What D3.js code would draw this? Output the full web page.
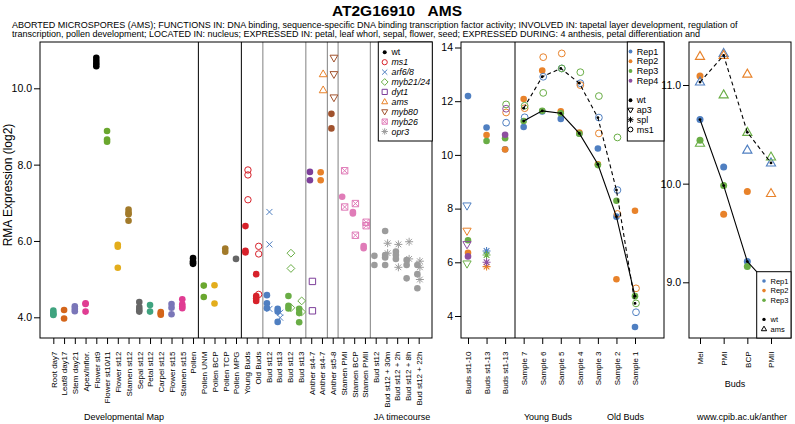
<!DOCTYPE html>
<html><head><meta charset="utf-8">
<script src="https://cdn.jsdelivr.net/npm/d3@7/dist/d3.min.js"></script>
<style>
body{margin:0;background:#fff}
svg{display:block}
text{font-family:"Liberation Sans",Arial,sans-serif}
</style>
</head><body>
<svg id="chart" width="795" height="424"></svg>
<script>
// ---------------- DATA ----------------
const titleText = "AT2G16910   AMS";
const descLines = [
  "ABORTED MICROSPORES (AMS); FUNCTIONS IN: DNA binding, sequence-specific DNA binding transcription factor activity; INVOLVED IN: tapetal layer development, regulation of",
  "transcription, pollen development; LOCATED IN: nucleus; EXPRESSED IN: petal, leaf whorl, sepal, flower, seed; EXPRESSED DURING: 4 anthesis, petal differentiation and"
];

const devCategories = ["Root day7","Leaf8 day17","Stem day21","Apex/Inflor.","Flower st9","Flower st10/11","Flower st12","Stamen st12","Sepal st12","Petal st12","Carpel st12","Flower st15","Stamen st15","Pollen","Pollen UNM","Pollen BCP","Pollen TCP","Pollen MPG","Young Buds","Old Buds","Bud st12","Bud st13","Bud st12","Bud st13","Anther st4-7","Anther st4-7","Anther st5-8","Stamen PMI","Stamen BCP","Stamen PMII","Bud st12","Bud st12 + 30m","Bud st12 + 2h","Bud st12 + 8h","Bud st12 + 22h"];

const devWtValues = [
  [4.18,4.12,4.08,4.06],[4.19,3.97],[4.29,4.22,4.16],[4.37,4.35,4.15],
  [10.80,10.72,10.65,10.58],[8.88,8.66,8.60],[5.90,5.85,5.30],[6.82,6.74,6.70,6.53],
  [4.40,4.27,4.20,4.15],[4.32,4.15],[4.14,4.10,4.07],[4.35,4.25,4.08],
  [4.47,4.34,4.28,4.24],[5.55,5.47,5.42,5.40],[4.83,4.53],[4.84,4.36],
  [5.80,5.72],[5.53],[6.39,5.74,5.70],[5.13,4.56,4.50,4.43],
  [4.58,4.37,4.24],[4.22,4.15,3.88],[4.56,4.30,4.23],[4.22,4.11,3.87],
  [7.81,7.59],[7.80,7.59],[9.33,8.95],[7.16],[6.76,6.72],[5.87,5.81],
  [5.61,5.37],[6.26,5.63,5.57,5.37],[5.72,5.63,5.53],[5.50,5.37,5.02],[5.37,5.13,4.76]
];

const devMutantGenotype = [null,null,null,null,null,null,null,null,null,null,null,null,null,null,null,null,null,null,
  "ms1","ms1","arf6/8","arf6/8","myb21/24","myb21/24","dyt1","ams","myb80","myb26","myb26","myb26","opr3","opr3","opr3","opr3","opr3"];

const devMutantValues = [[],[],[],[],[],[],[],[],[],[],[],[],[],[],[],[],[],[],
  [7.86,7.73,7.08],[5.86,5.66,4.60],[6.76,5.91,4.22],[4.12,3.99],[5.68,5.28,4.25],[4.43,4.14],
  [4.94,4.17],[10.37,9.95],[10.80,10.37,9.76],[7.84,6.89],[6.98,6.15],[6.49,6.40],
  [],[5.94,5.68],[5.91,5.31],[5.98,5.53],[5.47,5.31,4.99]];

const devGenotypes = ["wt","ms1","arf6/8","myb21/24","dyt1","ams","myb80","myb26","opr3"];
const devDividersAfter = [14,18,20,24,26,27,30];

const budCategories = ["Buds st1-10","Buds st1-13","Buds st1-13","Sample 7","Sample 6","Sample 5","Sample 4","Sample 3","Sample 2","Sample 1"];
const budReps = ["Rep1","Rep2","Rep3","Rep4"];
const budGenotypes = ["wt","ap3","spl","ms1"];
const budWt = [
  [12.19,11.02,10.21,11.04,11.62,11.34,10.80,10.24,7.70,3.59],
  [6.35,10.74,10.20,12.08,13.14,11.62,10.83,9.65,5.37,7.92],
  [6.82,10.52,10.62,11.26,11.64,11.55,10.79,9.62,8.29,4.74],
  [6.22,null,10.75,null,null,null,null,null,null,null]
];
const budAp3 = [[8.11],[7.17],[5.95],[6.67]];       // Buds st1-10
const budSpl = [[6.42],[5.84],[6.27],[6.00]];       // Buds st1-13 (first)
const budMs1 = [
  [null,null,11.20,11.40,12.91,13.22,12.67,11.39,8.69,4.14],
  [null,null,11.58,11.74,13.64,13.78,12.60,10.80,7.80,5.03],
  [null,null,11.88,11.83,12.31,13.22,13.08,12.19,10.65,4.47],
  [null,null,11.72,null,null,null,null,null,null,null]
];

const antherStages = ["Mei","PMI","BCP","PMII"];
const antherReps = ["Rep1","Rep2","Rep3"];
const antherGenotypes = ["wt","ams"];
const antherWt = [[10.65,10.17,9.21,8.95],[11.09,9.69,9.92,8.88],[10.44,9.98,9.16,9.00]];
const antherAms = [[11.03,11.32,10.34,10.21],[11.29,11.30,11.11,9.90],[10.41,10.90,10.52,10.27]];

// ---------------- STYLE ----------------
const devCatColors = ["#3fa37f","#d4651a","#7a76b8","#e03c92","#000000","#6aa72e","#e3ad1c","#a27a2a","#666666",
                      "#3fa37f","#d4651a","#7a76b8","#e03c92","#000000","#6aa72e","#e3ad1c","#a27a2a","#666666"];
const genoColor = {"wt":"#000","ms1":"#d7212a","arf6/8":"#4f7fc1","myb21/24":"#69ad45","dyt1":"#7d3f9a",
  "ams":"#e8822a","myb80":"#a0522d","myb26":"#e07cb8","opr3":"#9c9c9c"};
const genoShape = {"wt":"dot","ms1":"circle","arf6/8":"x","myb21/24":"diamond","dyt1":"square",
  "ams":"triangle","myb80":"triangleDown","myb26":"squareX","opr3":"asterisk"};
const repColors = ["#4f7fc1","#e8822a","#69ad45","#8e4fa0"];
const budShape = {"wt":"dot","ap3":"triangleDown","spl":"asterisk","ms1":"circle"};
const antherShape = {"wt":"dot","ams":"triangle"};

const svg = d3.select("#chart");

function sym(g, type, x, y, color, s, sw) {
  sw = sw || 1;
  const p = d3.path();
  switch (type) {
    case "dot":
      g.append("circle").attr("cx",x).attr("cy",y).attr("r",s).attr("fill",color); return;
    case "circle":
      g.append("circle").attr("cx",x).attr("cy",y).attr("r",s).attr("fill","none").attr("stroke",color).attr("stroke-width",sw); return;
    case "x":
      p.moveTo(x-s,y-s); p.lineTo(x+s,y+s); p.moveTo(x-s,y+s); p.lineTo(x+s,y-s); break;
    case "diamond":
      p.moveTo(x,y-s*1.3); p.lineTo(x+s*1.3,y); p.lineTo(x,y+s*1.3); p.lineTo(x-s*1.3,y); p.closePath(); break;
    case "square":
      p.rect(x-s,y-s,2*s,2*s); break;
    case "squareX":
      p.rect(x-s,y-s,2*s,2*s); p.moveTo(x-s,y-s); p.lineTo(x+s,y+s); p.moveTo(x-s,y+s); p.lineTo(x+s,y-s); break;
    case "triangle":
      p.moveTo(x,y-s*1.25); p.lineTo(x+s*1.15,y+s*0.75); p.lineTo(x-s*1.15,y+s*0.75); p.closePath(); break;
    case "triangleDown":
      p.moveTo(x,y+s*1.25); p.lineTo(x+s*1.15,y-s*0.75); p.lineTo(x-s*1.15,y-s*0.75); p.closePath(); break;
    case "asterisk":
      for (let k=0;k<4;k++){ const a=k*Math.PI/4; p.moveTo(x-s*Math.cos(a),y-s*Math.sin(a)); p.lineTo(x+s*Math.cos(a),y+s*Math.sin(a)); }
      break;
  }
  g.append("path").attr("d",p.toString()).attr("fill","none").attr("stroke",color).attr("stroke-width",sw);
}

function styleAxis(g, fs) {
  g.select(".domain").remove();
  g.selectAll(".tick line").attr("stroke","#000");
  g.selectAll(".tick text").attr("fill","#000").style("font-size",fs+"px").style("font-family","Liberation Sans, Arial, sans-serif");
}
function rotateLabels(g) {
  g.selectAll(".tick text").attr("transform","rotate(-90)").attr("text-anchor","end")
    .attr("x",-13.5).attr("y",0).attr("dy","0.35em");
}

// ---------------- TITLE ----------------
svg.append("text").attr("x",397).attr("y",16).attr("text-anchor","middle")
  .style("font-size","15.5px").style("font-weight","bold").style("white-space","pre").text(titleText);
descLines.forEach((t,i)=>{
  svg.append("text").attr("x",12).attr("y",27.5 + i*9.8).style("font-size","9px").text(t);
});

// ---------------- PANEL 1 ----------------
const P1 = {l:40, r:432, t:42, b:338};
const xDev = d3.scaleLinear().domain([1-1.24, devCategories.length+1.24]).range([P1.l, P1.r]);
const yDev = d3.scaleLinear().domain([4,10]).range([317.3, 88.3]);

const g1 = svg.append("g");
devDividersAfter.forEach((d,i)=>{
  const xx = xDev(d+0.5);
  g1.append("line").attr("x1",xx).attr("x2",xx).attr("y1",P1.t).attr("y2",P1.b)
    .attr("stroke", i<2 ? "#000" : "#808080").attr("stroke-width",1);
});
devWtValues.forEach((vals,i)=>{
  const geno = devMutantGenotype[i];
  const col = geno ? genoColor[geno] : devCatColors[i];
  const off = geno ? -1.3 : 0;
  vals.forEach(v=> sym(g1,"dot",xDev(i+1)+off,yDev(v),col,3.3));
});
devMutantValues.forEach((vals,i)=>{
  const geno = devMutantGenotype[i];
  if (!geno) return;
  const sz = {"circle":3.2,"x":3,"diamond":3,"square":3.2,"triangle":3.4,"triangleDown":3.4,"squareX":3.2,"asterisk":4}[genoShape[geno]];
  vals.forEach(v=> sym(g1,genoShape[geno],xDev(i+1)+1.2,yDev(v),genoColor[geno],sz,1));
});
svg.append("rect").attr("x",P1.l).attr("y",P1.t).attr("width",P1.r-P1.l).attr("height",P1.b-P1.t)
  .attr("fill","none").attr("stroke","#000").attr("stroke-width",1);

const ay1 = svg.append("g").attr("transform",`translate(${P1.l},0)`)
  .call(d3.axisLeft(yDev).tickValues([4,6,8,10]).tickSize(6).tickPadding(2));
styleAxis(ay1,10.5);
const ax1 = svg.append("g").attr("transform",`translate(0,${P1.b})`)
  .call(d3.axisBottom(xDev).tickValues(d3.range(1,devCategories.length+1)).tickFormat(d=>devCategories[d-1]).tickSize(6));
styleAxis(ax1,8); rotateLabels(ax1);

svg.append("text").attr("transform","translate(12,185) rotate(-90)").attr("text-anchor","middle")
  .style("font-size","12px").text("RMA Expression (log2)");
svg.append("text").attr("x",124).attr("y",419.5).attr("text-anchor","middle").style("font-size","9px").text("Developmental Map");
svg.append("text").attr("x",402).attr("y",419.5).attr("text-anchor","middle").style("font-size","9px").text("JA timecourse");

// legend panel 1
const L1 = svg.append("g");
L1.append("rect").attr("x",378.3).attr("y",P1.t).attr("width",432.3-378.3).attr("height",141-P1.t)
  .attr("fill","#fff").attr("stroke","#000").attr("stroke-width",1);
devGenotypes.forEach((gname,i)=>{
  const yy = 52.3 + i*9.9;
  const sh = genoShape[gname];
  sym(L1, sh, 384.7, yy, genoColor[gname], sh==="dot"?2:(sh==="asterisk"?3.2:2.6), 1);
  L1.append("text").attr("x",391.5).attr("y",yy).attr("dy","0.35em").style("font-size","8.8px")
    .style("font-style", gname==="wt" ? "normal" : "italic").text(gname);
});

// ---------------- PANEL 2 ----------------
const P2 = {l:461, r:664, t:42, b:338, div:515};
const x2 = d3.scaleLinear().domain([1,10]).range([468,635]);
const y2 = d3.scaleLinear().domain([4,14]).range([316,47.5]);
const g2 = svg.append("g");
g2.append("line").attr("x1",P2.div).attr("x2",P2.div).attr("y1",P2.t).attr("y2",P2.b).attr("stroke","#000");

budWt.forEach((row,r)=> row.forEach((v,i)=>{ if(v!=null) sym(g2,"dot",x2(i+1),y2(v),repColors[r],3.3); }));
budAp3.forEach((row,r)=> row.forEach((v,i)=>{ if(v!=null) sym(g2,"triangleDown",x2(i+1)-1,y2(v),repColors[r],3.6,1); }));
budSpl.forEach((row,r)=> row.forEach((v,i)=>{ if(v!=null) sym(g2,"asterisk",x2(i+2),y2(v),repColors[r],4,1.1); }));
budMs1.forEach((row,r)=> row.forEach((v,i)=>{ if(v!=null) sym(g2,"circle",x2(i+1)+1,y2(v),repColors[r],3.4,1); }));

function medianLine(g, rows, xs, ys, idx, dash) {
  const pts = idx.map(i=>[xs(i+1), ys(d3.median(rows.map(r=>r[i]).filter(v=>v!=null)))]);
  g.append("path").attr("d",d3.line()(pts)).attr("fill","none").attr("stroke","#000").attr("stroke-width",1.1)
    .attr("stroke-dasharray",dash?"4,3":null);
  pts.forEach(p=> g.append("circle").attr("cx",p[0]).attr("cy",p[1]).attr("r",1.4).attr("fill","#000"));
}
const sampleIdx = d3.range(3,10);
medianLine(g2, budWt, x2, y2, sampleIdx, false);
medianLine(g2, budMs1, x2, y2, sampleIdx, true);

svg.append("rect").attr("x",P2.l).attr("y",P2.t).attr("width",P2.r-P2.l).attr("height",P2.b-P2.t)
  .attr("fill","none").attr("stroke","#000");
const ay2 = svg.append("g").attr("transform",`translate(${P2.l},0)`)
  .call(d3.axisLeft(y2).tickValues([4,6,8,10,12,14]).tickSize(6).tickPadding(2));
styleAxis(ay2,10.5);
const ax2 = svg.append("g").attr("transform",`translate(0,${P2.b})`)
  .call(d3.axisBottom(x2).tickValues(d3.range(1,11)).tickFormat(d=>budCategories[d-1]).tickSize(6));
styleAxis(ax2,8); rotateLabels(ax2);
svg.append("text").attr("x",548).attr("y",419.5).attr("text-anchor","middle").style("font-size","9px").text("Young Buds");
svg.append("text").attr("x",625.5).attr("y",419.5).attr("text-anchor","middle").style("font-size","9px").text("Old Buds");

const L2 = svg.append("g");
L2.append("rect").attr("x",627.3).attr("y",P2.t).attr("width",P2.r-627.3).attr("height",141-P2.t)
  .attr("fill","#fff").attr("stroke","#000");
budReps.forEach((rn,i)=>{
  const yy = 51.5 + i*9.75;
  sym(L2,"dot",630.5,yy,repColors[i],1.9);
  L2.append("text").attr("x",636.7).attr("y",yy).attr("dy","0.35em").style("font-size","9px").text(rn);
});
budGenotypes.forEach((gn,i)=>{
  const yy = 51.5 + (i+5)*9.75;
  const sh = budShape[gn];
  sym(L2,sh,630.5,yy,"#000",sh==="dot"?1.9:(sh==="asterisk"?3:2.4),1);
  L2.append("text").attr("x",636.7).attr("y",yy).attr("dy","0.35em").style("font-size","9px").text(gn);
});

// ---------------- PANEL 3 ----------------
const P3 = {l:689, r:791, t:42, b:338};
const x3 = d3.scaleLinear().domain([1,4]).range([700,771]);
const y3 = d3.scaleLinear().domain([9,11]).range([282.3,85]);
const g3 = svg.append("g");
antherWt.forEach((row,r)=> row.forEach((v,i)=> sym(g3,"dot",x3(i+1),y3(v),repColors[r],3.5)));
antherAms.forEach((row,r)=> row.forEach((v,i)=> sym(g3,"triangle",x3(i+1),y3(v),repColors[r],4,1.1)));
const stIdx = d3.range(0,4);
medianLine(g3, antherWt, x3, y3, stIdx, false);
medianLine(g3, antherAms, x3, y3, stIdx, true);

svg.append("rect").attr("x",P3.l).attr("y",P3.t).attr("width",P3.r-P3.l).attr("height",P3.b-P3.t)
  .attr("fill","none").attr("stroke","#000");
const ay3 = svg.append("g").attr("transform",`translate(${P3.l},0)`)
  .call(d3.axisLeft(y3).tickValues([9,10,11]).tickSize(6).tickPadding(2));
styleAxis(ay3,10.5);
const ax3 = svg.append("g").attr("transform",`translate(0,${P3.b})`)
  .call(d3.axisBottom(x3).tickValues(d3.range(1,5)).tickFormat(d=>antherStages[d-1]).tickSize(6));
styleAxis(ax3,8); rotateLabels(ax3);
svg.append("text").attr("x",735).attr("y",387).attr("text-anchor","middle").style("font-size","9px").text("Buds");
svg.append("text").attr("x",742).attr("y",419.5).attr("text-anchor","middle").style("font-size","9px").text("www.cpib.ac.uk/anther");

const L3 = svg.append("g");
L3.append("rect").attr("x",756.7).attr("y",271.7).attr("width",P3.r-756.7).attr("height",P3.b-271.7)
  .attr("fill","#fff").attr("stroke","#000");
antherReps.forEach((rn,i)=>{
  const yy = 281 + i*9.6;
  sym(L3,"dot",764,yy,repColors[i],1.8);
  L3.append("text").attr("x",770.5).attr("y",yy).attr("dy","0.35em").style("font-size","7.5px").text(rn);
});
antherGenotypes.forEach((gn,i)=>{
  const yy = 281 + (i+4)*9.6;
  const sh = antherShape[gn];
  sym(L3,sh,764,yy,"#000",sh==="dot"?1.7:2.3,1);
  L3.append("text").attr("x",770.5).attr("y",yy).attr("dy","0.35em").style("font-size","7.5px").text(gn);
});
</script>
</body></html>
